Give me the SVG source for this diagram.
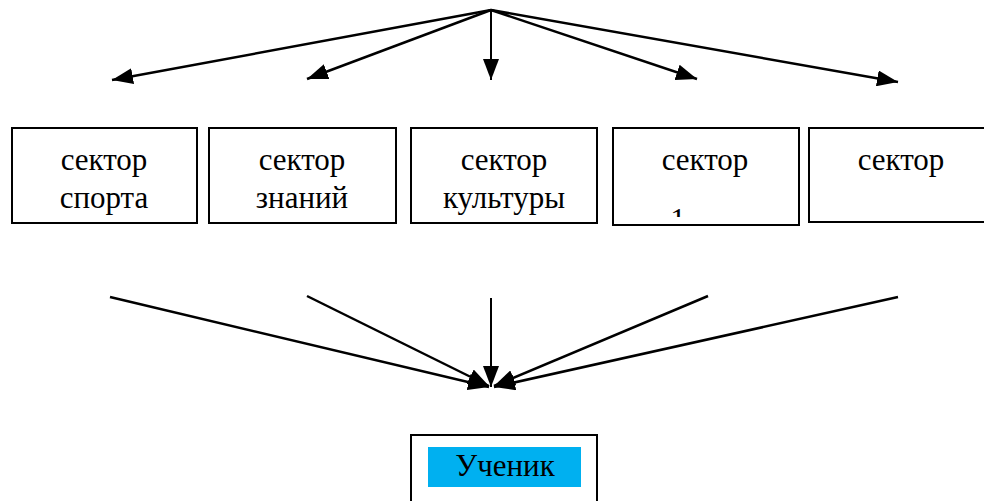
<svg xmlns="http://www.w3.org/2000/svg" width="984" height="501" viewBox="0 0 984 501">
<style>
.box{fill:#fff;stroke:#000;stroke-width:2}
.t{font-family:"Liberation Serif","Times New Roman","DejaVu Serif",serif;font-size:31px;fill:#000;text-anchor:middle}
.c line{stroke:#000;stroke-width:2.5}
.c line.v{stroke-width:2}
</style>
<defs>
<marker id="ah" markerUnits="userSpaceOnUse" markerWidth="22" markerHeight="16" viewBox="0 0 22 16" refX="21" refY="8" orient="auto">
<path d="M0,0 L21,8 L0,16 Z" fill="#000"/>
</marker>
<clipPath id="c4"><rect x="613" y="129" width="186" height="88"/></clipPath>
</defs>
<g id="sport"><rect class="box" x="12" y="128" width="185" height="95"/><text class="t" x="104" y="170">сектор</text><text class="t" x="104" y="208">спорта</text></g>
<g id="znaniy"><rect class="box" x="209" y="128" width="187" height="95"/><text class="t" x="302" y="170">сектор</text><text class="t" x="302" y="208">знаний</text></g>
<g id="kultury"><rect class="box" x="411" y="128" width="186" height="95"/><text class="t" x="504" y="170">сектор</text><text class="t" x="504" y="208">культуры</text></g>
<g id="sector4"><rect class="box" x="613" y="128" width="186" height="97"/><text class="t" x="705" y="170">сектор</text><text class="t" x="678" y="230" clip-path="url(#c4)">1</text></g>
<g id="sector5"><rect class="box" x="809" y="128" width="180" height="94"/><text class="t" x="901" y="170">сектор</text></g>
<g id="uchenik"><rect class="box" x="411" y="435" width="186" height="72"/><rect x="428" y="447" width="153" height="40" fill="#00B0F0"/><text class="t" x="505" y="476">Ученик</text></g>
<g class="c" id="connectors">
<line x1="491" y1="10" x2="112" y2="80" marker-end="url(#ah)"/>
<line x1="491" y1="10" x2="307" y2="79" marker-end="url(#ah)"/>
<line class="v" x1="491" y1="10" x2="491" y2="80" marker-end="url(#ah)"/>
<line x1="491" y1="10" x2="697" y2="79" marker-end="url(#ah)"/>
<line x1="491" y1="10" x2="898" y2="82" marker-end="url(#ah)"/>
<line x1="110" y1="297" x2="489" y2="387" marker-end="url(#ah)"/>
<line x1="307" y1="296" x2="489" y2="386" marker-end="url(#ah)"/>
<line class="v" x1="491" y1="298" x2="491" y2="387" marker-end="url(#ah)"/>
<line x1="708" y1="296" x2="494" y2="386" marker-end="url(#ah)"/>
<line x1="898" y1="297" x2="494" y2="387" marker-end="url(#ah)"/>
</g>
</svg>
